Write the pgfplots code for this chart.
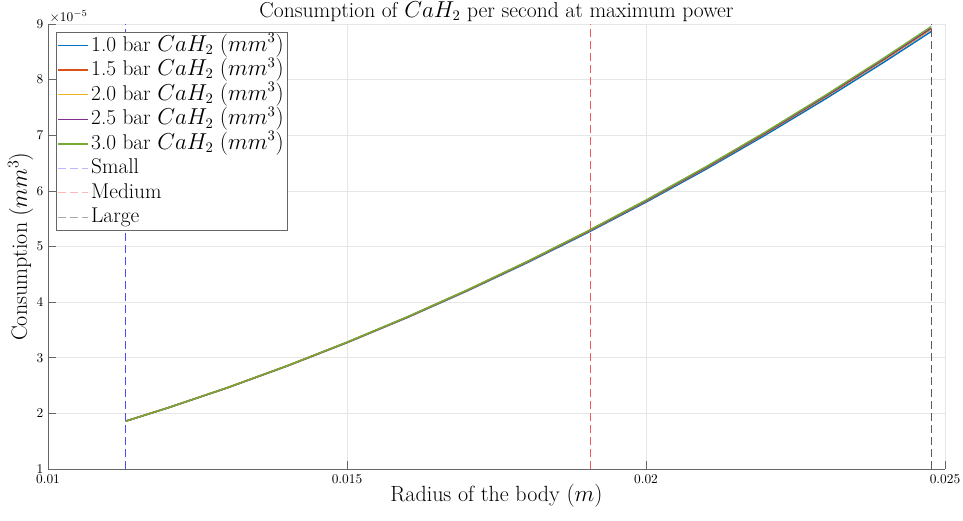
\documentclass[border=0pt]{standalone}
\usepackage{pgfplots}
\pgfplotsset{compat=1.18}
\definecolor{mblue}{RGB}{0,114,189}
\definecolor{morange}{RGB}{217,83,25}
\definecolor{myellow}{RGB}{237,177,32}
\definecolor{mpurple}{RGB}{126,47,142}
\definecolor{mgreen}{RGB}{119,172,48}
\definecolor{mgrid}{RGB}{230,230,230}
\definecolor{dsmall}{RGB}{77,77,255}
\definecolor{dmedium}{RGB}{242,90,90}
\definecolor{dlarge}{RGB}{90,90,90}
\definecolor{lsmall}{RGB}{184,184,255}
\definecolor{lmedium}{RGB}{255,184,184}
\definecolor{llarge}{RGB}{166,166,166}
\pgfplotstableread{
x        b1     b15    b20    b25    b30
0.0113   1.860  1.860  1.860  1.860  1.860
0.012    2.097  2.098  2.098  2.098  2.098
0.013    2.459  2.461  2.461  2.462  2.463
0.014    2.850  2.853  2.854  2.855  2.856
0.015    3.270  3.275  3.276  3.277  3.280
0.016    3.718  3.725  3.726  3.728  3.732
0.017    4.196  4.205  4.206  4.208  4.214
0.018    4.701  4.714  4.716  4.718  4.725
0.019    5.235  5.251  5.253  5.256  5.265
0.020    5.797  5.817  5.820  5.823  5.835
0.021    6.387  6.412  6.415  6.419  6.433
0.022    7.006  7.035  7.039  7.044  7.061
0.023    7.653  7.688  7.693  7.699  7.719
0.024    8.328  8.368  8.374  8.382  8.404
0.02477  8.866  8.910  8.919  8.928  8.955
}\data
\begin{document}
\begin{tikzpicture}
\begin{axis}[
  scale only axis,
  width=672.75pt, height=333.75pt,
  xmin=0.01, xmax=0.025, ymin=1, ymax=9,
  scaled x ticks=false, scaled y ticks=false,
  xtick={0.01,0.015,0.02,0.025},
  xticklabels={0.01,0.015,0.02,0.025},
  ytick={1,2,3,4,5,6,7,8,9},
  axis lines=left,
  axis line style={-, draw=black!60, line width=0.5pt},
  tick style={draw=black!60, line width=0.5pt},
  tick align=inside,
  major tick length=6pt,
  grid=major,
  major grid style={draw=mgrid, line width=0.5pt},
  tick label style={font=\fontsize{10}{12}\selectfont},
  xticklabel style={yshift=-1pt},
  every axis title shift=0pt,
  title={Consumption of $CaH_2$ per second at maximum power},
  title style={font=\fontsize{16.2}{19}\selectfont, at={(axis description cs:0.5,1.0157)}, anchor=base},
  xlabel={Radius of the body $(m)$},
  ylabel={Consumption $\left(mm^3\right)$},
  label style={font=\fontsize{16.5}{19}\selectfont},
  xlabel style={at={(axis description cs:0.5,-0.0607)}, anchor=center},
  ylabel style={at={(axis description cs:-0.0305,0.5)}, anchor=center},
  legend cell align=left,
  legend style={at={(0.009,0.982)}, anchor=north west, draw=black!60, line width=0.5pt,
    font=\fontsize{16}{19}\selectfont, inner xsep=1pt, inner ysep=2pt, row sep=2.4pt,
    nodes={text height=12pt, text depth=4pt, inner ysep=0pt}},
  legend image code/.code={\draw[#1] (0pt,0pt) -- (22pt,0pt);},
  clip=false,
]
\addplot[draw=mblue, line width=1.1pt] table[x=x,y=b1] {\data};
\addlegendentry{1.0 bar $CaH_2$ $\left(mm^3\right)$}
\addplot[draw=morange, line width=1.1pt] table[x=x,y=b15] {\data};
\addlegendentry{1.5 bar $CaH_2$ $\left(mm^3\right)$}
\addplot[draw=myellow, line width=1.1pt] table[x=x,y=b20] {\data};
\addlegendentry{2.0 bar $CaH_2$ $\left(mm^3\right)$}
\addplot[draw=mpurple, line width=1.1pt] table[x=x,y=b25] {\data};
\addlegendentry{2.5 bar $CaH_2$ $\left(mm^3\right)$}
\addplot[draw=mgreen, line width=1.1pt] table[x=x,y=b30] {\data};
\addlegendentry{3.0 bar $CaH_2$ $\left(mm^3\right)$}
\addplot[draw=dsmall, line width=0.75pt, dash pattern=on 6pt off 3pt,
  legend image post style={draw=lsmall}] coordinates {(0.0113,1) (0.0113,9)};
\addlegendentry{Small}
\addplot[draw=dmedium, line width=0.75pt, dash pattern=on 6pt off 3pt,
  legend image post style={draw=lmedium}] coordinates {(0.01908,1) (0.01908,9)};
\addlegendentry{Medium}
\addplot[draw=dlarge, line width=0.75pt, dash pattern=on 6pt off 3pt,
  legend image post style={draw=llarge}] coordinates {(0.02477,1) (0.02477,9)};
\addlegendentry{Large}
\node[anchor=south west, inner sep=1pt, font=\fontsize{10}{12}\selectfont] at (rel axis cs:0,1) {$\times10^{-5}$};
\end{axis}
\pgfresetboundingbox
\path (current axis.south west) ++(-36pt,-39pt) coordinate (bl);
\path (current axis.north east) ++(13.5pt,18pt) coordinate (tr);
\path[use as bounding box] (bl) rectangle (tr);
\end{tikzpicture}
\end{document}
